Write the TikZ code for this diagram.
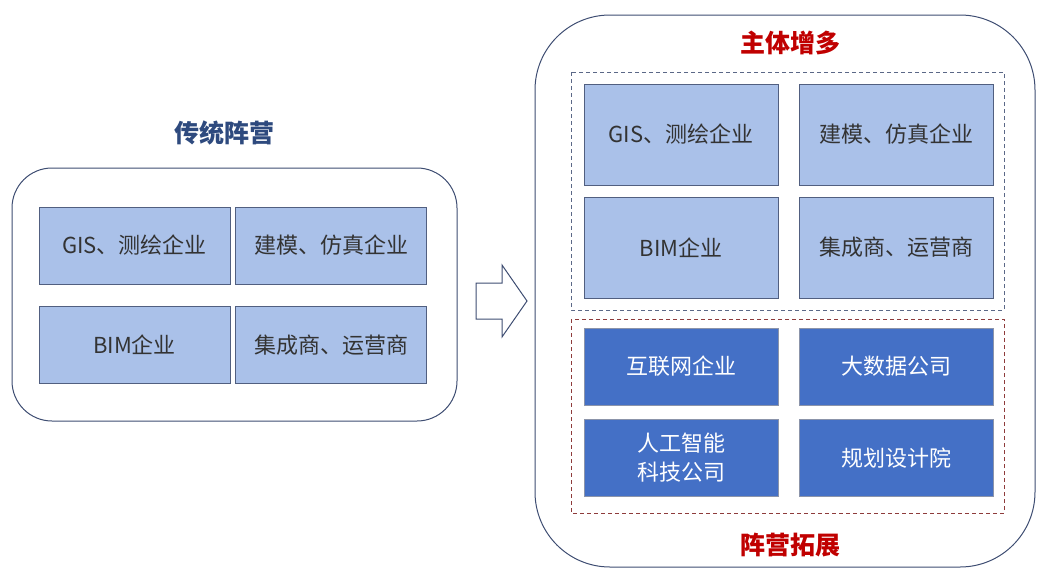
\documentclass[tikz,border=0pt]{standalone}
\usepackage{fontspec}
\setmainfont{Noto Sans CJK SC}
\usepackage{tikz}

\definecolor{titleblue}{HTML}{2E4A7E}
\definecolor{titlered}{HTML}{C00000}
\definecolor{lightbox}{HTML}{AAC1E9}
\definecolor{darkbox}{HTML}{4470C6}
\definecolor{edgeblue}{HTML}{3E4D72}
\definecolor{dashred}{HTML}{8E3B3B}

\tikzset{
    camp/.style={draw=edgeblue, line width=1pt, rounded corners=#1},
    oldbox/.style={draw=edgeblue!90, fill=lightbox, line width=0.9pt, minimum width=191pt, minimum height=77pt, text=black!80, font=\fontsize{22}{26}\selectfont, align=center},
    newbox/.style={draw=edgeblue!60, fill=darkbox, line width=0.7pt, minimum width=194pt, minimum height=77pt, text=white, font=\fontsize{22}{26}\selectfont, align=center},
    headline/.style={font=\bfseries\fontsize{25}{28}\selectfont},
    fence/.style={dashed, dash pattern=on 4pt off 3pt, line width=1pt}
}

\begin{document}
\begin{tikzpicture}[x=1pt, y=-1pt]
        \useasboundingbox (0,0) rectangle (1037,568);

        % traditional camp
        \node[headline, text=titleblue] (oldtitle) at (224,133) {传统阵营};
        \draw[camp=40pt] (12,168) rectangle (457,421);
        \node[oldbox] (gisL) at (134.5,245.5) {GIS、测绘企业};
        \node[oldbox] (simL) at (331,245.5) {建模、仿真企业};
        \node[oldbox] (bimL) at (134.5,345) {BIM企业};
        \node[oldbox] (opsL) at (331,345) {集成商、运营商};

        % arrow
        \draw[edgeblue, line width=1pt, fill=white] (476,283) -- (502,283) -- (502,265) -- (527,301)
            -- (502,337) -- (502,319) -- (476,319) -- cycle;

        % expanded camp
        \draw[camp=75pt] (535,15) rectangle (1035,567);
        \node[headline, text=titlered] (moretitle) at (790,43) {主体增多};
        \node[headline, text=titlered] (wider) at (790,545) {阵营拓展};
        \draw[fence, edgeblue!85] (571,72) rectangle (1004,310);
        \draw[fence, dashred] (571,319) rectangle (1004,513);

        \node[oldbox, minimum width=194pt, minimum height=101pt] (gisR) at (681,134.5) {GIS、测绘企业};
        \node[oldbox, minimum width=194pt, minimum height=101pt] (simR) at (896,134.5) {建模、仿真企业};
        \node[oldbox, minimum width=194pt, minimum height=101pt] (bimR) at (681,247.5) {BIM企业};
        \node[oldbox, minimum width=194pt, minimum height=101pt] (opsR) at (896,247.5) {集成商、运营商};

        \node[newbox] (web) at (681,366.5) {互联网企业};
        \node[newbox] (data) at (896,366.5) {大数据公司};
        \node[newbox, font=\fontsize{22}{29}\selectfont] (ai) at (681,458) {人工智能\\科技公司};
        \node[newbox] (plan) at (896,458) {规划设计院};
    \end{tikzpicture}
\end{document}
